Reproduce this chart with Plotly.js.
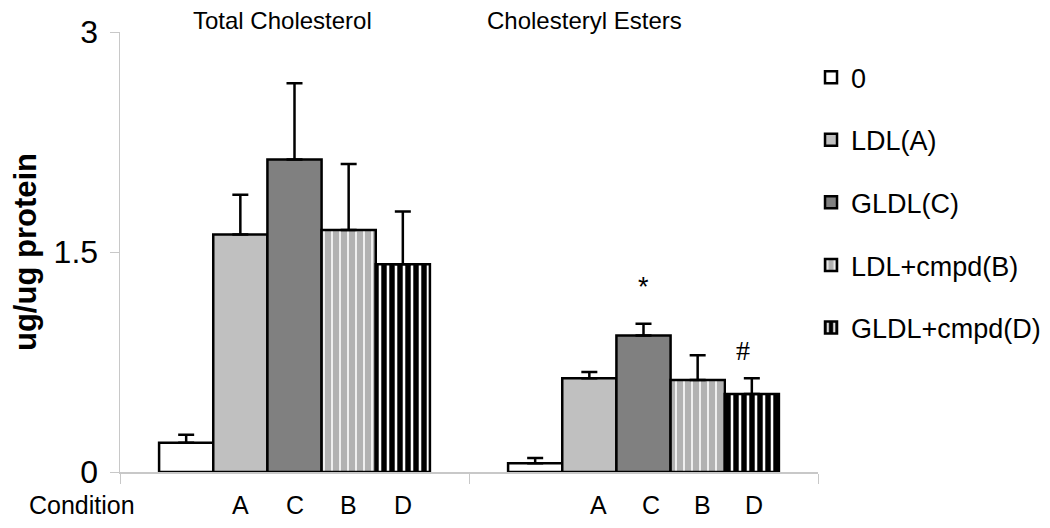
<!DOCTYPE html>
<html>
<head>
<meta charset="utf-8">
<script src="https://cdn.plot.ly/plotly-3.0.1.min.js"></script>
<style>html,body{margin:0;padding:0;background:#fff;}#chart{width:1050px;height:528px;}</style>
</head>
<body>
<div id="chart"></div>
<script>
// ---- data ----
var groups = ['Total Cholesterol', 'Cholesteryl Esters'];
var seriesNames = ['0', 'LDL(A)', 'GLDL(C)', 'LDL+cmpd(B)', 'GLDL+cmpd(D)'];
var tickLetters = ['', 'A', 'C', 'B', 'D'];
var val0    = [0.20, 0.06];
var valA    = [1.62, 0.64];
var valC    = [2.13, 0.93];
var valB    = [1.65, 0.628];
var valD    = [1.416, 0.532];
var err0    = [0.054, 0.035];
var errA    = [0.27, 0.042];
var errC    = [0.52, 0.08];
var errB    = [0.45, 0.168];
var errD    = [0.36, 0.108];
var yTicks  = [0, 1.5, 3];
var yTickText = ['0', '1.5', '3'];
var markers = [{group: 1, series: 2, text: '*', y: 1.26}, {group: 1, series: 4, text: '#', y: 0.83}];

// ---- styling ----
var FONT = 'Liberation Sans, Arial, sans-serif';
var SERIF = 'Liberation Serif, Times New Roman, serif';
var bargap = 0.224;
var nSeries = seriesNames.length;
var barW = (1 - bargap) / nSeries;
var values = [val0, valA, valC, valB, valD];
var errs = [err0, errA, errC, errB, errD];
var styles = [
  {color: '#ffffff'},
  {color: '#c0c0c0'},
  {color: '#808080'},
  {color: '#b2b2b2', pattern: {shape: '|', bgcolor: '#b2b2b2', fgcolor: '#ffffff', size: 8, solidity: 0.2}},
  {color: '#000000', pattern: {shape: '|', bgcolor: '#000000', fgcolor: '#ffffff', size: 8, solidity: 0.32}}
];
var xIdx = groups.map(function (g, i) { return i; });

var traces = seriesNames.map(function (name, s) {
  var m = {color: styles[s].color, line: {color: '#000', width: 2.5}};
  if (styles[s].pattern) m.pattern = styles[s].pattern;
  return {
    type: 'bar', name: name, x: xIdx, y: values[s], legendgroup: name,
    marker: m,
    error_y: {type: 'data', symmetric: false, array: errs[s], arrayminus: errs[s].map(function () { return 0; }),
              color: '#000', thickness: 2.5, width: 8},
    hoverinfo: 'x+y'
  };
});

var annotations = [];
// group titles (positions in paper units)
var titleX = [(282 - 120) / 698, (584 - 120) / 698];
groups.forEach(function (g, i) {
  annotations.push({x: titleX[i], xref: 'paper', xanchor: 'center', y: 1, yref: 'paper', yanchor: 'bottom',
    yshift: -4, text: g, showarrow: false, font: {family: FONT, size: 24, color: '#000'}});
});
// condition letters
var letterShift = [[0, 0, 0, 0, 0], [0, 9, 7, 5, 2]];
groups.forEach(function (g, gi) {
  tickLetters.forEach(function (t, s) {
    if (!t) return;
    annotations.push({x: gi + (s - (nSeries - 1) / 2) * barW, xanchor: 'center', xshift: letterShift[gi][s],
      y: 0, yref: 'y', yshift: -33, text: t, showarrow: false, font: {family: FONT, size: 25, color: '#000'}});
  });
});
annotations.push({x: (82 - 120) / 698, xref: 'paper', xanchor: 'center', y: 0, yref: 'y', yshift: -33,
  text: 'Condition', showarrow: false, font: {family: FONT, size: 25, color: '#000'}});
// significance markers
markers.forEach(function (mk) {
  var isHash = mk.text === '#';
  annotations.push({x: mk.group + (mk.series - (nSeries - 1) / 2) * barW, xanchor: 'center', xshift: isHash ? -9 : 0,
    y: mk.y, yref: 'y', text: mk.text, showarrow: false,
    font: {family: isHash ? SERIF : FONT, size: isHash ? 28 : 27, color: '#000'}});
});

var layout = {
  width: 1050, height: 528,
  margin: {l: 120, r: 232, t: 32, b: 56, autoexpand: false},
  paper_bgcolor: '#fff', plot_bgcolor: '#fff',
  barmode: 'group', bargap: bargap, bargroupgap: 0,
  showlegend: true,
  legend: {x: 0.99, xanchor: 'left', y: 0.952, yanchor: 'top', traceorder: 'grouped', tracegroupgap: 24.5,
    font: {family: FONT, size: 27, color: '#000'}, bgcolor: 'rgba(0,0,0,0)'},
  xaxis: {type: 'linear', range: [-0.5, 1.5], showgrid: false, zeroline: false, showline: true,
    linecolor: '#c8c8c8', linewidth: 1.5, ticks: 'outside', ticklen: 10, tickcolor: '#c8c8c8', tickwidth: 1,
    tickvals: [-0.5, 0.5, 1.5], showticklabels: false, layer: 'below traces', fixedrange: true},
  yaxis: {range: [0, 3], showgrid: false, zeroline: false, showline: true, linecolor: '#c8c8c8', linewidth: 1.5,
    ticks: 'outside', ticklen: 9, tickcolor: '#c8c8c8', tickwidth: 1, tickvals: yTicks, ticktext: yTickText,
    tickfont: {family: FONT, size: 32, color: '#000'}, ticklabelstandoff: 5, layer: 'below traces',
    title: {text: '<b>ug/ug protein</b>', font: {family: FONT, size: 31, color: '#000'}, standoff: 8},
    fixedrange: true},
  annotations: annotations,
  font: {family: FONT}
};

Plotly.newPlot('chart', traces, layout, {displayModeBar: false, staticPlot: true});
</script>
</body>
</html>
